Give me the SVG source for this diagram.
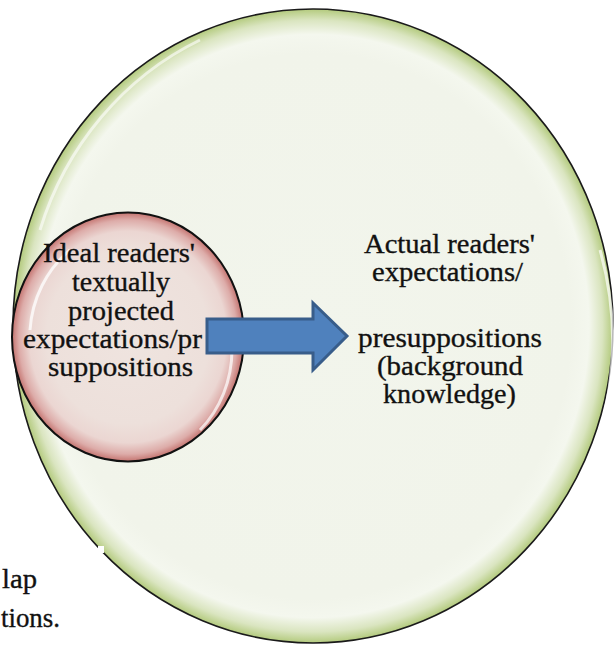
<svg xmlns="http://www.w3.org/2000/svg" width="614" height="646" viewBox="0 0 614 646">
<style>
  .t { font-family: "Liberation Serif", "Times New Roman", serif; font-size: 28px; fill: #111; stroke: #111; stroke-width: 0.35; }
  .bg { font-family: "Liberation Serif", "Times New Roman", serif; font-size: 28px; fill: #111; stroke: #111; stroke-width: 0.35; }
</style>
<defs>
  <radialGradient id="gGreen" cx="50%" cy="50%" r="50%">
    <stop offset="0" stop-color="#F2F5EC"/>
    <stop offset="0.86" stop-color="#F1F4EA"/>
    <stop offset="0.92" stop-color="#F4F7EE"/>
    <stop offset="0.965" stop-color="#DAE5C0"/>
    <stop offset="1" stop-color="#B3CA7D"/>
  </radialGradient>
  <radialGradient id="gPink" cx="50%" cy="50%" r="50%">
    <stop offset="0" stop-color="#EFE4DF"/>
    <stop offset="0.7" stop-color="#EDE0DB"/>
    <stop offset="0.85" stop-color="#EBD6D2"/>
    <stop offset="0.94" stop-color="#DDACA9"/>
    <stop offset="1" stop-color="#C4736F"/>
  </radialGradient>
</defs>
<rect width="614" height="646" fill="#FFFFFF"/>
<g id="background-text">
  <text class="bg" x="2" y="588" textLength="35" lengthAdjust="spacingAndGlyphs">lap</text>
  <text class="bg" x="1" y="627" textLength="59" lengthAdjust="spacingAndGlyphs">tions.</text>
</g>
<g id="actual">
  <ellipse cx="313" cy="326" rx="300" ry="317" fill="url(#gGreen)" stroke="#1A1A1A" stroke-width="1.6"/>
  <path d="M40,230 A300,317 0 0 1 200,40" fill="none" stroke="#FFFFFF" stroke-opacity="0.6" stroke-width="3"/>
  <path d="M600,250 A300,317 0 0 1 560,520" fill="none" stroke="#FFFFFF" stroke-opacity="0.7" stroke-width="3"/>
  <rect x="98" y="546" width="6" height="7" fill="#FFFFFF"/>
  <text class="t" x="364" y="253" textLength="171" lengthAdjust="spacingAndGlyphs">Actual readers'</text>
  <text class="t" x="372" y="281" textLength="151" lengthAdjust="spacingAndGlyphs">expectations/</text>
  <text class="t" x="358" y="347" textLength="184" lengthAdjust="spacingAndGlyphs">presuppositions</text>
  <text class="t" x="377" y="375" textLength="146" lengthAdjust="spacingAndGlyphs">(background</text>
  <text class="t" x="383" y="403" textLength="133" lengthAdjust="spacingAndGlyphs">knowledge)</text>
</g>
<g id="ideal">
  <ellipse cx="128" cy="337" rx="116" ry="124.5" fill="url(#gPink)" stroke="#111111" stroke-width="2"/>
  <path d="M30,330 A105,112 0 0 1 70,250" fill="none" stroke="#FFFFFF" stroke-opacity="0.75" stroke-width="3"/>
  <path d="M232,350 A105,112 0 0 1 200,430" fill="none" stroke="#FFFFFF" stroke-opacity="0.7" stroke-width="3"/>
  <text class="t" x="43" y="262" textLength="152" lengthAdjust="spacingAndGlyphs">Ideal readers'</text>
  <text class="t" x="72" y="291" textLength="98" lengthAdjust="spacingAndGlyphs">textually</text>
  <text class="t" x="68" y="320" textLength="106" lengthAdjust="spacingAndGlyphs">projected</text>
  <text class="t" x="23" y="348" textLength="179" lengthAdjust="spacingAndGlyphs">expectations/pr</text>
  <text class="t" x="48" y="376" textLength="145" lengthAdjust="spacingAndGlyphs">suppositions</text>
</g>
<g id="connectors">
  <path d="M207,319 L313,319 L313,303 L347,336 L313,370 L313,353 L207,353 Z" fill="#4F81BD" stroke="#385D8A" stroke-width="3" stroke-linejoin="miter"/>
</g>
</svg>
